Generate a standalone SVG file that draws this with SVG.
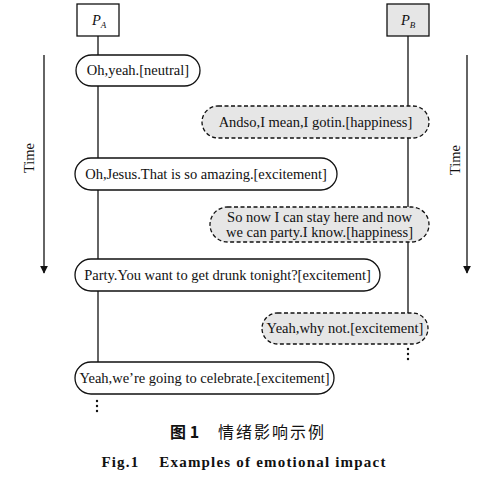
<svg xmlns="http://www.w3.org/2000/svg" width="488" height="479" viewBox="0 0 488 479">
<style>
.t{font-family:"Liberation Serif","Times New Roman",serif;font-size:14.5px;fill:#111}
.solid{fill:#fff;stroke:#111;stroke-width:1.3}
.dash{fill:#e6e6e6;stroke:#111;stroke-width:1.3;stroke-dasharray:4 2.5}
.ln{stroke:#111;stroke-width:1.3;fill:none}
.dot{fill:#111}
</style>
<defs>
<marker id="ah" viewBox="0 0 10 10" refX="9" refY="5" markerWidth="8" markerHeight="8" markerUnits="userSpaceOnUse" orient="auto">
<path d="M0,0 L10,5 L0,10 z" fill="#111"/>
</marker>
</defs>
<rect width="488" height="479" fill="#fff"/>
<g id="connectors">
<line class="ln" x1="98" y1="36" x2="98" y2="362"/>
<line class="ln" x1="408" y1="36" x2="408" y2="313"/>
<line class="ln" x1="44" y1="55" x2="44" y2="273" marker-end="url(#ah)"/>
<line class="ln" x1="467" y1="55" x2="467" y2="273" marker-end="url(#ah)"/>
<circle class="dot" cx="97" cy="401" r="1.2"/>
<circle class="dot" cx="97" cy="406" r="1.2"/>
<circle class="dot" cx="97" cy="411" r="1.2"/>
<circle class="dot" cx="408" cy="349" r="1.2"/>
<circle class="dot" cx="408" cy="354" r="1.2"/>
<circle class="dot" cx="408" cy="359" r="1.2"/>
</g>
<g id="time-left"><text class="t" transform="translate(34,158) rotate(-90)" text-anchor="middle">Time</text></g>
<g id="time-right"><text class="t" transform="translate(460,160) rotate(-90)" text-anchor="middle">Time</text></g>
<g id="PA">
<rect x="77" y="4" width="42" height="32" fill="#fff" stroke="#111" stroke-width="1.3"/>
<text class="t" x="92" y="25" font-style="italic">P<tspan font-size="9" dy="3">A</tspan></text>
</g>
<g id="PB">
<rect x="387" y="4" width="42" height="32" fill="#e6e6e6" stroke="#111" stroke-width="1.3"/>
<text class="t" x="401" y="25" font-style="italic">P<tspan font-size="9" dy="3">B</tspan></text>
</g>
<g id="m1">
<rect class="solid" x="76" y="55" width="124" height="31" rx="15.5"/>
<text class="t" x="138" y="75" text-anchor="middle">Oh,yeah.[neutral]</text>
</g>
<g id="m2">
<rect class="dash" x="202" y="106" width="227" height="32" rx="16"/>
<text class="t" x="315.5" y="127" text-anchor="middle">Andso,I mean,I gotin.[happiness]</text>
</g>
<g id="m3">
<rect class="solid" x="75" y="158" width="262" height="32" rx="16"/>
<text class="t" x="206" y="179" text-anchor="middle">Oh,Jesus.That is so amazing.[excitement]</text>
</g>
<g id="m4">
<rect class="dash" x="210" y="207" width="219" height="35" rx="17.5"/>
<text class="t" x="319.5" y="222" text-anchor="middle">So now I can stay here and now</text>
<text class="t" x="319.5" y="237" text-anchor="middle">we can party.I know.[happiness]</text>
</g>
<g id="m5">
<rect class="solid" x="75" y="259" width="305" height="32" rx="16"/>
<text class="t" x="227.5" y="280" text-anchor="middle">Party.You want to get drunk tonight?[excitement]</text>
</g>
<g id="m6">
<rect class="dash" x="262" y="313" width="166" height="31" rx="15.5"/>
<text class="t" x="345" y="333" text-anchor="middle">Yeah,why not.[excitement]</text>
</g>
<g id="m7">
<rect class="solid" x="75" y="362" width="259" height="32" rx="16"/>
<text class="t" x="204.5" y="383" text-anchor="middle">Yeah,we’re going to celebrate.[excitement]</text>
</g>
<g id="caption">
<text x="170" y="438" font-family="'Noto Sans CJK SC',sans-serif" font-size="16" font-weight="bold" fill="#111">图 1</text>
<text x="218" y="438" font-family="'Noto Sans CJK SC',sans-serif" font-size="16" letter-spacing="2" fill="#111">情绪影响示例</text>
<text x="244" y="467" text-anchor="middle" font-family="'Liberation Serif',serif" font-size="15" font-weight="bold" letter-spacing="1.2" fill="#111" xml:space="preserve">Fig.1    Examples of emotional impact</text>
</g>
</svg>
